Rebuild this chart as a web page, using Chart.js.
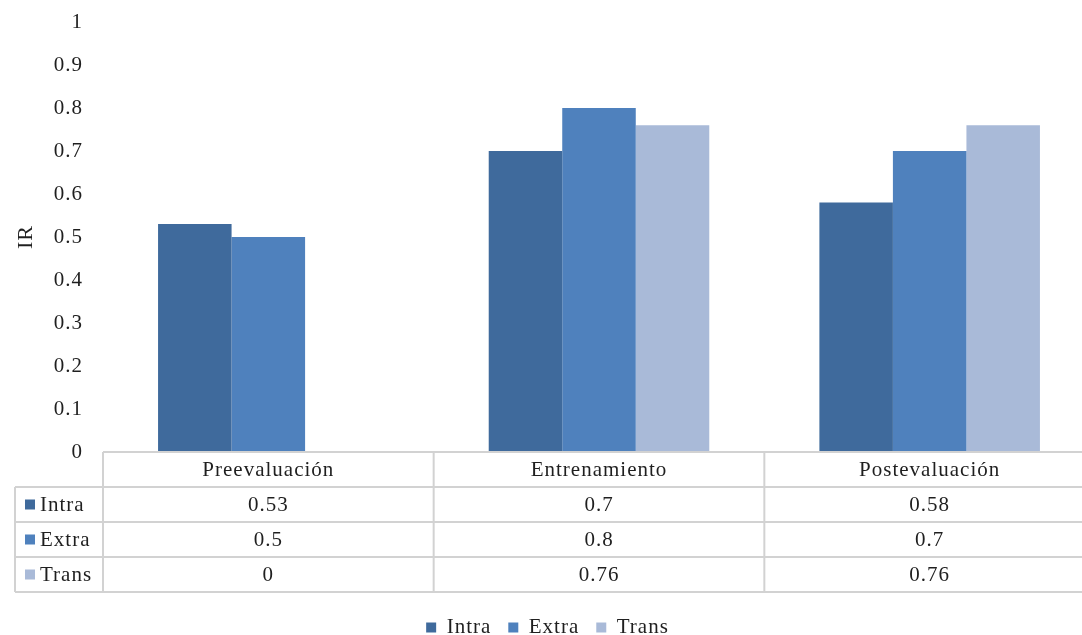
<!DOCTYPE html>
<html>
<head>
<meta charset="utf-8">
<script src="https://cdn.jsdelivr.net/npm/chart.js@4/dist/chart.umd.min.js"></script>
<style>
  html, body { margin: 0; padding: 0; background: #ffffff; overflow: hidden; }
  #wrap { position: relative; width: 1095px; height: 635px; }
</style>
</head>
<body>
<div id="wrap"><canvas id="c"></canvas></div>
<script>
const categories = ['Preevaluación', 'Entrenamiento', 'Postevaluación'];
const seriesNames = ['Intra', 'Extra', 'Trans'];
const intraValues = [0.53, 0.7, 0.58];
const extraValues = [0.5, 0.8, 0.7];
const transValues = [0, 0.76, 0.76];
const seriesColors = ['#3F6A9C', '#4F81BD', '#A9BAD8'];
const yAxisTitle = 'IR';

const FONT = '"Liberation Serif", "Times New Roman", serif';
const TEXT = '#1f1f1f';

const spacingPlugin = {
  id: 'spacing',
  beforeLayout(chart) { chart.ctx.letterSpacing = '1px'; },
  beforeDraw(chart) { chart.ctx.letterSpacing = '1px'; }
};

const tablePlugin = {
  id: 'dataTable',
  afterDraw(chart) {
    const ctx = chart.ctx;
    const area = chart.chartArea;
    const xs = chart.scales.x;
    const rowH = 35;
    const top = area.bottom;
    const leftCol = 15;
    const n = categories.length;
    const centers = categories.map((_, i) => xs.getPixelForValue(i));
    const bounds = [area.left];
    for (let i = 0; i < n - 1; i++) bounds.push((centers[i] + centers[i + 1]) / 2);
    bounds.push(area.right);

    ctx.save();
    ctx.letterSpacing = '1px';
    ctx.strokeStyle = '#d2d2d2';
    ctx.lineWidth = 2;
    ctx.beginPath();
    ctx.moveTo(area.left, top); ctx.lineTo(area.right, top);
    for (let r = 1; r <= seriesNames.length + 1; r++) {
      const y = top + r * rowH;
      ctx.moveTo(leftCol, y); ctx.lineTo(area.right, y);
    }
    bounds.forEach((x) => {
      ctx.moveTo(x, top); ctx.lineTo(x, top + rowH * (seriesNames.length + 1));
    });
    ctx.moveTo(leftCol, top + rowH); ctx.lineTo(leftCol, top + rowH * (seriesNames.length + 1));
    ctx.stroke();

    ctx.fillStyle = TEXT;
    ctx.font = '21px ' + FONT;
    ctx.textAlign = 'center';
    ctx.textBaseline = 'middle';
    categories.forEach((c, i) => ctx.fillText(c, centers[i], top + rowH / 2 + 1));
    chart.data.datasets.forEach((ds, r) => {
      const y = top + rowH * (r + 1) + rowH / 2 + 1;
      ds.data.forEach((v, i) => ctx.fillText(String(v), centers[i], y));
      ctx.fillStyle = ds.backgroundColor;
      ctx.fillRect(leftCol + 10, y - 6, 10, 10);
      ctx.fillStyle = TEXT;
      ctx.textAlign = 'left';
      ctx.fillText(ds.label, leftCol + 25, y);
      ctx.textAlign = 'center';
    });
    ctx.restore();
  }
};

const seriesValues = [intraValues, extraValues, transValues];

new Chart(document.getElementById('c'), {
  type: 'bar',
  data: {
    labels: categories,
    datasets: seriesNames.map((name, i) => ({
      label: name,
      data: seriesValues[i],
      backgroundColor: seriesColors[i],
      borderWidth: 0,
      categoryPercentage: 0.667,
      barPercentage: 1.0
    }))
  },
  options: {
    responsive: true,
    maintainAspectRatio: false,
    animation: false,
    layout: { padding: { top: 22, left: 0, right: 0, bottom: -13 } },
    plugins: {
      tooltip: { enabled: false },
      legend: {
        position: 'bottom',
        labels: {
          boxWidth: 10,
          boxHeight: 10,
          padding: 17,
          color: TEXT,
          font: { family: FONT, size: 21 }
        }
      }
    },
    scales: {
      x: {
        grid: { display: false },
        border: { display: false },
        ticks: { display: false },
        afterFit(scale) { scale.height = 148; scale.paddingLeft = 0; scale.paddingRight = 0; }
      },
      y: {
        min: 0,
        max: 1,
        grid: { display: false, drawTicks: false },
        border: { display: false },
        ticks: {
          stepSize: 0.1,
          padding: 20,
          color: TEXT,
          font: { family: FONT, size: 21 },
          callback: (v) => String(+Number(v).toFixed(1))
        },
        title: {
          display: true,
          text: yAxisTitle,
          color: TEXT,
          font: { family: FONT, size: 22 },
          padding: { top: 13, bottom: 0 }
        },
        afterFit(scale) { scale.width = 103; scale.paddingTop = 0; scale.paddingBottom = 0; }
      }
    }
  },
  plugins: [spacingPlugin, tablePlugin]
});
</script>
</body>
</html>
